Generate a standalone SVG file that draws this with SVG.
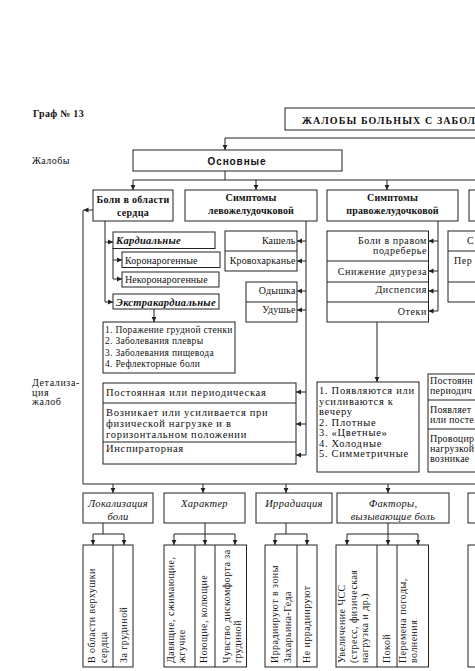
<svg xmlns="http://www.w3.org/2000/svg" width="475" height="671" viewBox="0 0 475 671">
<defs>
<style>
.b{fill:#fff;stroke:#222;stroke-width:1}
.l{fill:none;stroke:#222;stroke-width:1}
.a{fill:none;stroke:#222;stroke-width:1;marker-end:url(#ah)}
text{fill:#111;font-size:10px}
.bd{font-weight:bold}
.bi{font-weight:bold;font-style:italic;font-size:10.5px;letter-spacing:0.3px}
.it{font-style:italic;font-size:10.5px;letter-spacing:0.3px}
.c{text-anchor:middle}
.r{text-anchor:end}
.m{font-size:10.5px;letter-spacing:0.7px}
.s{font-size:9.5px;letter-spacing:0.3px}
.p{font-size:10px;letter-spacing:0.6px}
.q{font-size:10px;letter-spacing:0.2px}
.v{font-size:10px;letter-spacing:0.45px}
</style>
<marker id="ah" markerWidth="6" markerHeight="6" refX="5" refY="3" orient="auto" markerUnits="userSpaceOnUse"><path d="M0,0.6 L5,3 L0,5.4z" fill="#222"/></marker>
</defs>
<rect width="475" height="671" fill="#fff"/>
<g font-family="Liberation Serif, Times New Roman, serif">
<text x="33" y="117" class="bd" font-size="10.5" letter-spacing="0.3">Граф № 13</text>
<text x="32" y="164" letter-spacing="0.5">Жалобы</text>
<g id="lbl-det"><text x="32" y="386" font-size="9.5" letter-spacing="0.6">Детализа-</text><text x="32" y="395.5" font-size="9.5" letter-spacing="0.6">ция</text><text x="32" y="405" font-size="9.5" letter-spacing="0.6">жалоб</text></g>

<g id="connectors">
<path class="l" d="M225,138 H480"/>
<path class="a" d="M225,138 V150"/>
<path class="l" d="M225,171 V180 M133,180 H480"/>
<path class="a" d="M133,180 V190"/>
<path class="a" d="M256,180 V190"/>
<path class="a" d="M387,180 V190"/>
<path class="a" d="M93,210 H83.5"/>
<path class="l" d="M83,210 V484 H480"/>
<path class="l" d="M105,221 V302"/>
<path class="a" d="M105,242 H113"/>
<path class="a" d="M105,302 H113"/>
<path class="l" d="M113,248 V279"/>
<path class="a" d="M113,260 H122"/>
<path class="a" d="M113,279 H122"/>
<path class="a" d="M154,309 V322"/>
<path class="l" d="M306,221 V455"/>
<path class="a" d="M306,241 H297"/>
<path class="a" d="M306,261 H297"/>
<path class="a" d="M306,291 H297"/>
<path class="a" d="M306,310 H297"/>
<path class="a" d="M306,392 H296"/>
<path class="a" d="M306,424 H296"/>
<path class="a" d="M306,455 H296"/>
<path class="l" d="M438,221 V311"/>
<path class="a" d="M438,241 H428.5"/>
<path class="a" d="M438,271 H428.5"/>
<path class="a" d="M438,291 H428.5"/>
<path class="a" d="M438,311 H428.5"/>
<path class="a" d="M377,322 V382"/>
<path class="a" d="M113,484 V493"/>
<path class="a" d="M203,484 V493"/>
<path class="a" d="M286,484 V493"/>
<path class="a" d="M388,484 V493"/>
<path class="l" d="M103,523 V534 M93,534 H124"/>
<path class="a" d="M93,534 V545"/>
<path class="a" d="M124,534 V545"/>
<path class="l" d="M205,523 V534 M174,534 H235"/>
<path class="a" d="M174,534 V545"/>
<path class="a" d="M205,534 V545"/>
<path class="a" d="M235,534 V545"/>
<path class="l" d="M286,523 V534 M275,534 H307"/>
<path class="a" d="M275,534 V545"/>
<path class="a" d="M307,534 V545"/>
<path class="l" d="M388,523 V534 M347,534 H418"/>
<path class="a" d="M347,534 V545"/>
<path class="a" d="M388,534 V545"/>
<path class="a" d="M418,534 V545"/>
</g>

<g id="title"><rect class="b" x="285" y="108" width="200" height="22"/><text x="302" y="123.5" class="bd" font-size="11.5" letter-spacing="1.1">ЖАЛОБЫ БОЛЬНЫХ С ЗАБОЛ</text></g>
<g id="osnovnye"><rect class="b" x="133" y="150" width="209" height="21"/><text x="237" y="165" class="c" font-family="Liberation Sans, Arial, sans-serif" font-weight="bold" font-size="12.5" letter-spacing="0.9">Основные</text></g>

<g id="boli"><rect class="b" x="93" y="190" width="80" height="31"/><text x="133" y="203" class="bd c" font-size="10.5" letter-spacing="0.3">Боли в области</text><text x="133" y="216" class="bd c" font-size="10.5" letter-spacing="0.3">сердца</text></g>
<g id="lev"><rect class="b" x="185" y="190" width="132" height="31"/><text x="251" y="200.5" class="bd c" font-size="9.5" letter-spacing="0.15">Симптомы</text><text x="251" y="213.5" class="bd c" font-size="9.5" letter-spacing="0.15">левожелудочковой</text></g>
<g id="prav"><rect class="b" x="327" y="190" width="131" height="31"/><text x="392.5" y="200.5" class="bd c" font-size="9.5" letter-spacing="0.15">Симптомы</text><text x="392.5" y="213.5" class="bd c" font-size="9.5" letter-spacing="0.15">правожелудочковой</text></g>
<g id="third"><rect class="b" x="469" y="190" width="20" height="31"/></g>

<g id="kard"><rect class="b" x="113" y="232" width="102" height="16.5"/><text x="116" y="244" class="bi">Кардиальные</text></g>
<g id="koron"><rect class="b" x="122" y="252" width="98" height="15.5"/><text x="125" y="263.5" letter-spacing="0.1">Коронарогенные</text></g>
<g id="nekoron"><rect class="b" x="122" y="272" width="97" height="15"/><text x="125" y="283" letter-spacing="0.1">Некоронарогенные</text></g>
<g id="ekstra"><rect class="b" x="113" y="294" width="106" height="15"/><text x="116" y="305.5" class="bi">Экстракардиальные</text></g>
<g id="ekstra-list"><rect class="b" x="103" y="322" width="132" height="51"/>
<text x="105" y="332.5" class="s">1. Поражение грудной стенки</text>
<text x="105" y="344" class="s">2. Заболевания плевры</text>
<text x="105" y="355.5" class="s">3. Заболевания пищевода</text>
<text x="105" y="367" class="s">4. Рефлекторные боли</text></g>

<g id="kashel"><rect class="b" x="225" y="231" width="72" height="40"/><path class="l" d="M225,251 H297"/><text x="295.5" y="244" class="r" letter-spacing="0.15">Кашель</text><text x="295.5" y="264" class="r" letter-spacing="0.15">Кровохарканье</text></g>
<g id="odyshka"><rect class="b" x="246" y="282" width="51" height="40"/><path class="l" d="M246,302 H297"/><text x="295.5" y="294" class="r" letter-spacing="0.15">Одышка</text><text x="295.5" y="313" class="r" letter-spacing="0.15">Удушье</text></g>

<g id="prav-sub"><rect class="b" x="327" y="231" width="101.5" height="91"/><path class="l" d="M327,261 H428.5 M327,282 H428.5 M327,302 H428.5"/>
<text x="427" y="243.5" class="r p">Боли в правом</text>
<text x="427" y="254" class="r p">подреберье</text>
<text x="427" y="274.5" class="r p">Снижение диуреза</text>
<text x="427" y="293" class="r p">Диспепсия</text>
<text x="427" y="314.5" class="r p">Отеки</text></g>
<g id="third-sub"><rect class="b" x="448" y="231" width="40" height="71"/><path class="l" d="M448,251 H488 M448,282 H488"/><text x="467" y="244" class="p">С</text><text x="454" y="264" class="p">Пер</text></g>

<g id="det-left"><rect class="b" x="103" y="383" width="193" height="81"/><path class="l" d="M103,403 H296 M103,442 H296"/>
<text x="106" y="396" class="m">Постоянная или периодическая</text>
<text x="106" y="416" class="m">Возникает или усиливается  при</text>
<text x="106" y="427" class="m">физической нагрузке и в</text>
<text x="106" y="437.5" class="m">горизонтальном  положении</text>
<text x="106" y="452" class="m">Инспираторная</text></g>

<g id="det-mid"><rect class="b" x="317" y="382" width="102" height="90"/>
<text x="319" y="394" class="m">1. Появляются или</text>
<text x="319" y="404.5" class="m">усиливаются к</text>
<text x="319" y="415" class="m">вечеру</text>
<text x="319" y="425.5" class="m">2. Плотные</text>
<text x="319" y="436" class="m">3. «Цветные»</text>
<text x="319" y="446.5" class="m">4. Холодные</text>
<text x="319" y="457" class="m">5. Симметричные</text></g>

<g id="det-right"><rect class="b" x="428" y="374" width="60" height="98"/><path class="l" d="M428,400 H488 M428,429 H488"/>
<text x="430" y="384" class="q">Постоянн</text>
<text x="430" y="394" class="q">периодич</text>
<text x="430" y="412.5" class="q">Появляет</text>
<text x="430" y="422.5" class="q">или посте</text>
<text x="430" y="442" class="q">Провоцир</text>
<text x="430" y="452" class="q">нагрузкой</text>
<text x="430" y="462" class="q">возникае</text></g>

<g id="lokal"><rect class="b" x="83" y="493" width="70" height="30"/><text x="118" y="506.5" class="it c">Локализация</text><text x="118" y="520" class="it c">боли</text></g>
<g id="harakter"><rect class="b" x="164" y="493" width="81" height="30"/><text x="204.5" y="506.5" class="it c">Характер</text></g>
<g id="irrad"><rect class="b" x="256" y="493" width="76" height="30"/><text x="294" y="506.5" class="it c">Иррадиация</text></g>
<g id="faktory"><rect class="b" x="337" y="493" width="112" height="30"/><text x="393" y="506.5" class="it c">Факторы,</text><text x="393" y="520" class="it c">вызывающие боль</text></g>
<g id="next2"><rect class="b" x="468" y="493" width="20" height="30"/></g>

<g id="lokal-cells"><rect class="b" x="83" y="545" width="50" height="122"/><path class="l" d="M113,545 V667"/>
<text class="v" transform="translate(95,663) rotate(-90)">В области верхушки</text>
<text class="v" transform="translate(106.5,663) rotate(-90)">сердца</text>
<text class="v" transform="translate(127,663) rotate(-90)">За грудиной</text></g>
<g id="harakter-cells"><rect class="b" x="164" y="545" width="82.5" height="122"/><path class="l" d="M195,545 V667 M215,545 V667"/>
<text class="v" transform="translate(173.5,663) rotate(-90)">Давящие, сжимающие,</text>
<text class="v" transform="translate(185,663) rotate(-90)">жгучие</text>
<text class="v" transform="translate(207,663) rotate(-90)">Ноющие, колющие</text>
<text class="v" transform="translate(229.5,663) rotate(-90)">Чувство дискомфорта за</text>
<text class="v" transform="translate(240.5,663) rotate(-90)">грудиной</text></g>
<g id="irrad-cells"><rect class="b" x="265" y="545" width="52" height="122"/><path class="l" d="M297,545 V667"/>
<text class="v" transform="translate(277.5,663) rotate(-90)">Иррадиируют в зоны</text>
<text class="v" transform="translate(291,663) rotate(-90)">Захарьина-Геда</text>
<text class="v" transform="translate(310,663) rotate(-90)">Не иррадиируют</text></g>
<g id="faktory-cells"><rect class="b" x="336" y="545" width="92.5" height="122"/><path class="l" d="M377,545 V667 M397,545 V667"/>
<text class="v" transform="translate(345,663) rotate(-90)">Увеличение ЧСС</text>
<text class="v" transform="translate(356.5,663) rotate(-90)">(стресс, физическая</text>
<text class="v" transform="translate(368,663) rotate(-90)">нагрузка и др.)</text>
<text class="v" transform="translate(390,663) rotate(-90)">Покой</text>
<text class="v" transform="translate(406,663) rotate(-90)">Перемена погоды,</text>
<text class="v" transform="translate(417,663) rotate(-90)">волнения</text></g>
<g id="next3"><rect class="b" x="468" y="545" width="20" height="122"/></g>
</g>
</svg>
